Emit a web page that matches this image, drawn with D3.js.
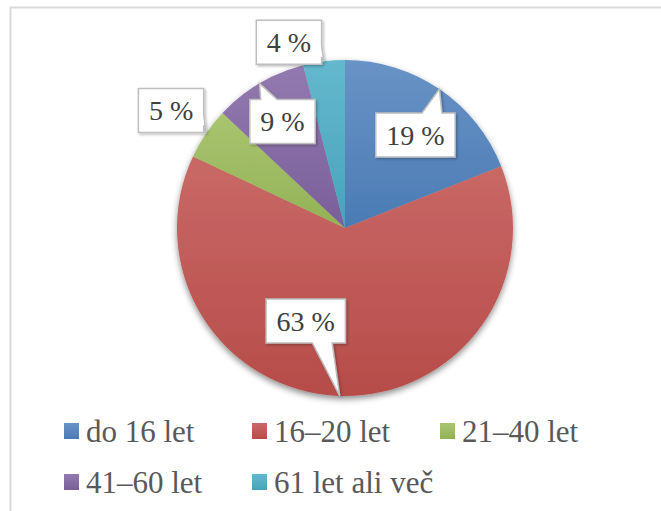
<!DOCTYPE html>
<html>
<head>
<meta charset="utf-8">
</head>
<body style="margin:0">
<svg width="661" height="511"></svg>
<script src="https://cdn.jsdelivr.net/npm/d3@7"></script>
<script>

// data
const categories = ["do 16 let", "16–20 let", "21–40 let", "41–60 let", "61 let ali več"];
const shares = [19, 63, 5, 9, 4];
const colors = ["#4F81BD", "#C0504D", "#9BBB59", "#8064A2", "#4BACC6"];

// callout box centre, relative to the point of its pointer (dragged by hand in the original)
const calloutOffset = [[-24, 46], [-34, -75], [-35, -23], [23, 38], [-35, -19]];

const svg = d3.select("svg"),
    width = +svg.attr("width"),
    height = +svg.attr("height");

const cx = 345, cy = 228, radius = 168;
const fontFace = "Liberation Serif";

// chart frame
svg.append("rect")
    .attr("x", 10.5).attr("y", 7.5)
    .attr("width", width + 20).attr("height", height + 20)
    .attr("fill", "none")
    .attr("stroke", "#d9d9d9")
    .attr("stroke-width", 2);

const defs = svg.append("defs");

colors.forEach(function(c, i) {
  const grad = defs.append("linearGradient")
      .attr("id", "grad" + i)
      .attr("x1", 0).attr("y1", 0).attr("x2", 0).attr("y2", 1);
  grad.append("stop").attr("offset", "0%").attr("stop-color", d3.interpolateRgb(c, "#fff")(0.14));
  grad.append("stop").attr("offset", "100%").attr("stop-color", d3.interpolateRgb(c, "#000")(0.05));
});

const pieShadow = defs.append("filter").attr("id", "pieShadow")
    .attr("x", "-10%").attr("y", "-10%").attr("width", "120%").attr("height", "125%");
pieShadow.append("feDropShadow")
    .attr("dx", 0).attr("dy", 3).attr("stdDeviation", 3)
    .attr("flood-color", "#000").attr("flood-opacity", 0.45);

const boxShadow = defs.append("filter").attr("id", "boxShadow")
    .attr("x", "-20%").attr("y", "-20%").attr("width", "150%").attr("height", "150%");
boxShadow.append("feDropShadow")
    .attr("dx", 1.5).attr("dy", 1.5).attr("stdDeviation", 1)
    .attr("flood-color", "#000").attr("flood-opacity", 0.25);

//START: pie
const pie = d3.pie().sort(null).value(function(d) { return d; });
const arcs = pie(shares);
const arc = d3.arc().innerRadius(0).outerRadius(radius);

const g = svg.append("g").attr("transform", "translate(" + cx + "," + cy + ")");

g.append("g")
    .attr("filter", "url(#pieShadow)")
    .selectAll("path")
    .data(arcs)
    .enter()
    .append("path")
    .attr("d", arc)
    .attr("fill", function(d, i) { return "url(#grad" + i + ")"; });
//END: pie

//START: callouts
function calloutPath(x0, y0, x1, y1, tx, ty) {
  const w = x1 - x0, h = y1 - y0;
  const mx = x0 + w / 2, my = y0 + h / 2;
  const dx = tx - mx, dy = ty - my;
  if (Math.abs(dx) <= w / 2 && Math.abs(dy) <= h / 2) {
    return "M" + x0 + "," + y0 + "H" + x1 + "V" + y1 + "H" + x0 + "Z";
  }
  if (Math.abs(dx) / w > Math.abs(dy) / h) {
    // pointer leaves a side edge
    const a = dy >= 0 ? y0 + h * 7 / 12 : y0 + h * 2 / 12;
    const b = dy >= 0 ? y0 + h * 10 / 12 : y0 + h * 5 / 12;
    if (dx > 0) {
      return "M" + x0 + "," + y0 + "H" + x1 + "V" + a + "L" + tx + "," + ty +
        "L" + x1 + "," + b + "V" + y1 + "H" + x0 + "Z";
    }
    return "M" + x0 + "," + y0 + "H" + x1 + "V" + y1 + "H" + x0 + "V" + b +
      "L" + tx + "," + ty + "L" + x0 + "," + a + "Z";
  }
  const a = dx >= 0 ? x0 + w * 7 / 12 : x0 + w * 2 / 12;
  const b = dx >= 0 ? x0 + w * 10 / 12 : x0 + w * 5 / 12;
  if (dy < 0) {
    return "M" + x0 + "," + y0 + "H" + a + "L" + tx + "," + ty + "L" + b + "," + y0 +
      "H" + x1 + "V" + y1 + "H" + x0 + "Z";
  }
  return "M" + x0 + "," + y0 + "H" + x1 + "V" + y1 + "H" + b + "L" + tx + "," + ty +
    "L" + a + "," + y1 + "H" + x0 + "Z";
}

const labels = g.append("g");

arcs.forEach(function(d, i) {
  const mid = (d.startAngle + d.endAngle) / 2;
  const tx = radius * Math.sin(mid), ty = -radius * Math.cos(mid);
  const bx = tx + calloutOffset[i][0], by = ty + calloutOffset[i][1];

  const lab = labels.append("g");
  const shape = lab.append("path");
  const txt = lab.append("text")
      .attr("x", bx).attr("y", by)
      .attr("dy", "0.35em")
      .attr("text-anchor", "middle")
      .attr("font-family", fontFace)
      .attr("font-size", 28)
      .attr("fill", "#404040")
      .text(d.data + " %");

  const tw = txt.node().getComputedTextLength();
  const bw = tw + 21, bh = 44;
  shape.attr("d", calloutPath(bx - bw / 2, by - bh / 2, bx + bw / 2, by + bh / 2, tx, ty))
      .attr("fill", "#fff")
      .attr("stroke", "#bfbfbf")
      .attr("stroke-width", 1.5)
      .attr("filter", "url(#boxShadow)");
});
//END: callouts

//START: legend
const legend = svg.append("g").attr("transform", "translate(64,423)");

const item = legend.selectAll("g")
    .data(categories)
    .enter()
    .append("g")
    .attr("transform", function(d, i) {
      return "translate(" + (i % 3) * 188 + "," + Math.floor(i / 3) * 51 + ")";
    });

item.append("rect")
    .attr("width", 15).attr("height", 16)
    .attr("fill", function(d, i) { return "url(#grad" + i + ")"; });

item.append("text")
    .attr("x", 22).attr("y", 19)
    .attr("font-family", fontFace)
    .attr("font-size", 31)
    .attr("fill", "#595959")
    .text(function(d) { return d; });
//END: legend

</script>
</body>
</html>
